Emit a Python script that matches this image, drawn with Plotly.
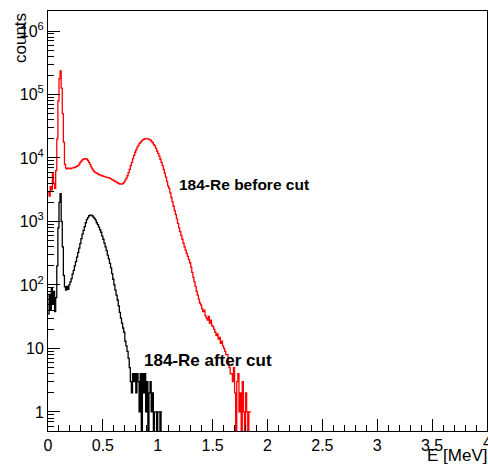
import numpy as np
import plotly.graph_objects as go

# ---------------- data ----------------
BIN_WIDTH = 0.01  # MeV

RED_BEFORE_CUT = [
    2818, 2512, 3548, 3162, 5623, 3981, 3311, 6310, 19953, 79433,
    177828, 234423, 125893, 50119, 17783, 7943, 6918, 6761, 6918, 6918,
    6761, 6918, 6918, 7079, 7079, 7244, 7413, 7586, 7943, 8511,
    8913, 9333, 9550, 9772, 9772, 9550, 9120, 8511, 7943, 7244,
    6761, 6310, 6026, 5888, 5754, 5623, 5495, 5370, 5370, 5248,
    5129, 5129, 5012, 5012, 4898, 4898, 4786, 4677, 4571, 4467,
    4365, 4266, 4169, 4074, 3981, 3890, 3890, 3890, 3981, 4169,
    4467, 4786, 5248, 5888, 6607, 7586, 8511, 9772, 10965, 12303,
    13490, 14791, 15849, 16982, 17783, 18621, 19275, 19724, 19953, 20184,
    20184, 19953, 19498, 19055, 18197, 17378, 16218, 15488, 14125, 12882,
    11749, 10715, 9550, 8511, 7586, 6607, 5754, 5012, 4266, 3631,
    3311, 2818, 2399, 2042, 1738, 1479, 1288, 1096, 933, 794,
    692, 603, 525, 457, 398, 355, 316, 282, 251, 224,
    191, 158, 132, 112, 95, 79, 69, 60, 52, 48,
    42, 38, 40, 33, 30, 28, 32, 25, 28, 23,
    22, 20, 18, 16, 17, 14, 15, 12, 13, 11,
    10, 9, 8, 8, 6, 5, 4, 4, 3, 5,
    2, 0, 3, 4, 1, 2, 0, 3, 1, 0,
    2, 1, 0, 1, 1,
]

BLACK_AFTER_CUT = [
    35, 71, 40, 89, 50, 79, 38, 63, 200, 794,
    2000, 2754, 1000, 398, 141, 93, 83, 95, 85, 100,
    112, 126, 148, 170, 200, 234, 275, 324, 380, 447,
    537, 631, 724, 832, 955, 1072, 1148, 1230, 1259, 1259,
    1230, 1175, 1122, 1047, 955, 891, 813, 741, 676, 589,
    525, 457, 398, 347, 295, 257, 219, 186, 151, 123,
    100, 83, 69, 58, 47, 37, 30, 25, 21, 18,
    13, 11, 9, 7, 5, 3, 2, 4, 3, 4,
    2, 4, 3, 1, 4, 0, 4, 2, 4, 1,
    3, 0, 2, 3, 1, 2, 0, 1, 1, 0,
    1, 1, 0, 1,
]

X_TICKS = [0, 0.5, 1, 1.5, 2, 2.5, 3, 3.5, 4]
X_TICK_LABELS = ["0", "0.5", "1", "1.5", "2", "2.5", "3", "3.5", "4"]
Y_TICKS = [1, 10, 100, 1000, 1e4, 1e5, 1e6]
Y_TICK_LABELS = ["1", "10", "10<sup>2</sup>", "10<sup>3</sup>",
                 "10<sup>4</sup>", "10<sup>5</sup>", "10<sup>6</sup>"]

LABEL_BEFORE = "184-Re before cut"
LABEL_AFTER = "184-Re after cut"

# ---------------- figure ----------------
W, H = 488, 468
ML, MR, MT, MB = 48, 1, 11, 37
PW, PH = W - ML - MR, H - MT - MB
FONT = "Liberation Sans, Arial, Helvetica, sans-serif"
FLOOR = 0.1  # where empty bins are drawn (below visible range)


def step_xy(counts):
    counts = np.asarray(counts, dtype=float)
    edges = np.arange(len(counts) + 1) * BIN_WIDTH
    y = np.where(counts > 0, counts, FLOOR)
    y = np.append(y, y[-1])
    return edges, y


def px_x(px):
    return (px - ML) / PW


def px_y(py):
    return (H - MB - py) / PH


fig = go.Figure()
for counts, color in [(RED_BEFORE_CUT, "#ff0000"), (BLACK_AFTER_CUT, "#000000")]:
    xs, ys = step_xy(counts)
    fig.add_trace(go.Scatter(x=xs, y=ys, mode="lines", line_shape="hv",
                             line=dict(color=color, width=1.3),
                             showlegend=False, hoverinfo="skip"))

fig.update_layout(
    width=W, height=H,
    margin=dict(l=ML, r=MR, t=MT, b=MB, pad=0),
    paper_bgcolor="white", plot_bgcolor="white",
    font=dict(family=FONT, color="black"),
    showlegend=False,
)
# the last label ("4") sits on the frame edge; plotly hides it, so it is
# drawn separately below at the same tick position
fig.update_xaxes(
    range=[0, 4], showgrid=False, zeroline=False,
    showline=True, linecolor="black", linewidth=1, mirror=True,
    tickmode="array", tickvals=X_TICKS, ticktext=X_TICK_LABELS[:-1] + [""],
    ticks="inside", ticklen=12, tickcolor="black", tickwidth=1,
    tickfont=dict(size=16, family=FONT, color="black"),
    minor=dict(ticks="inside", ticklen=6, tickcolor="black", tickwidth=1,
               dtick=0.1, showgrid=False),
)
fig.update_yaxes(
    type="log", range=[-0.3, 6.315], showgrid=False, zeroline=False,
    showline=True, linecolor="black", linewidth=1, mirror=True,
    tickmode="array", tickvals=Y_TICKS, ticktext=Y_TICK_LABELS,
    ticks="inside", ticklen=12, tickcolor="black", tickwidth=1,
    tickfont=dict(size=16, family=FONT, color="black"),
    minor=dict(ticks="inside", ticklen=6, tickcolor="black", tickwidth=1,
               dtick="D1", showgrid=False),
)

fig.add_annotation(text=X_TICK_LABELS[-1], xref="x", yref="paper",
                   x=X_TICKS[-1], y=px_y(433), xanchor="center", yanchor="top",
                   showarrow=False, borderpad=0,
                   font=dict(size=16, family=FONT, color="black"))
fig.add_annotation(text=LABEL_BEFORE, xref="paper", yref="paper",
                   x=px_x(178), y=px_y(184), xanchor="left", yanchor="middle",
                   showarrow=False, borderpad=0,
                   font=dict(size=15.5, family=FONT, color="black", weight="bold"))
fig.add_annotation(text=LABEL_AFTER, xref="paper", yref="paper",
                   x=px_x(143), y=px_y(360), xanchor="left", yanchor="middle",
                   showarrow=False, borderpad=0,
                   font=dict(size=17, family=FONT, color="black", weight="bold"))
fig.add_annotation(text="counts", xref="paper", yref="paper",
                   x=px_x(20), y=px_y(12), xanchor="center", yanchor="top",
                   textangle=-90, showarrow=False, borderpad=0,
                   font=dict(size=17, family=FONT, color="black"))
fig.add_annotation(text="E [MeV]", xref="paper", yref="paper",
                   x=px_x(488), y=px_y(466), xanchor="right", yanchor="bottom",
                   showarrow=False, borderpad=0,
                   font=dict(size=17, family=FONT, color="black"))

fig.write_html("out.html")
